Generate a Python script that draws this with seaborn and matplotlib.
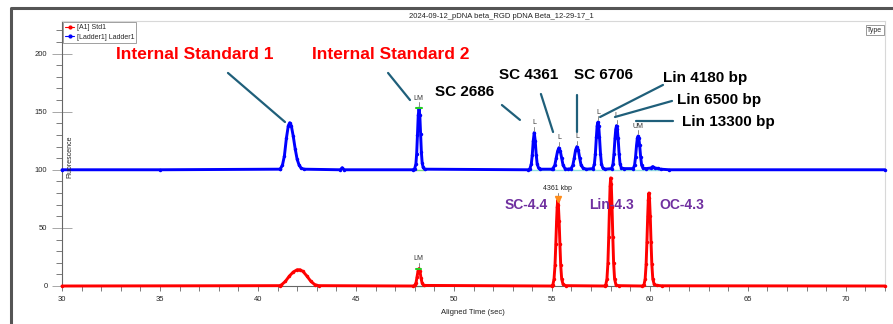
"""
Electropherogram: pDNA beta ladder vs sample, aligned time
"""
import matplotlib
matplotlib.use('Agg')
import matplotlib.pyplot as plt
from matplotlib.lines import Line2D
from matplotlib.ticker import MultipleLocator
import numpy as np
import pandas as pd
import seaborn as sns

# ladder trace (raw fluorescence, shown offset by +100)
ladder_time = [30.0, 35.0, 41.1,
               41.15, 41.25, 41.35, 41.45, 41.55, 41.62, 41.7, 41.8, 41.9, 42.0, 42.1, 42.2, 42.35,
               44.2, 44.3, 44.4, 47.9,
               48.0, 48.06, 48.1, 48.14, 48.18, 48.22, 48.26, 48.3, 48.34, 48.38, 48.43, 48.5,
               53.8, 53.88, 53.95, 54.0, 54.05, 54.1, 54.15, 54.2, 54.25, 54.32, 54.4,
               55.0, 55.05, 55.15, 55.22, 55.29, 55.36, 55.43, 55.5, 55.57, 55.67, 55.8,
               55.98, 56.07, 56.14, 56.21, 56.28, 56.35, 56.42, 56.49, 56.59, 56.75,
               57.1, 57.17, 57.22, 57.27, 57.31, 57.35, 57.39, 57.43, 57.48, 57.53, 57.6, 57.7,
               58.05, 58.12, 58.17, 58.22, 58.26, 58.3, 58.34, 58.38, 58.43, 58.48, 58.55, 58.7,
               59.15, 59.22, 59.27, 59.32, 59.36, 59.4, 59.44, 59.48, 59.53, 59.58, 59.65, 59.8,
               60.05, 60.15, 60.25, 60.4, 60.55, 61.0, 72.0]
ladder_fluor = [0, 0, 0.5,
                1, 4, 12, 27, 38, 40.5, 38, 29, 18, 9, 4, 1.5, 0.5,
                0, 1.8, 0, 0,
                1, 5, 14, 30, 47, 53, 47, 31, 15, 6, 2, 0.5,
                0, 1, 5, 13, 25, 32, 25, 13, 5, 1.5, 0.5,
                0.5, 1, 4, 10, 16, 19, 16, 10, 4, 1, 0.5,
                1, 4, 10, 17, 20, 17, 10, 4, 1.5, 0.5,
                1, 5, 14, 28, 38, 41, 38, 28, 14, 5, 1.5, 0.5,
                1, 5, 14, 27, 35, 38, 35, 27, 14, 5, 1.5, 1,
                1, 4, 11, 21, 27, 29, 27, 21, 11, 4, 1.5, 1,
                1.5, 2.8, 1.5, 1.2, 0.5, 0, 0]

# sample trace [A1] Std1
std_time = [30.0, 41.1,
            41.2, 41.4, 41.6, 41.8, 42.0, 42.15, 42.3, 42.5, 42.7, 42.9, 43.1,
            47.9, 48.0, 48.07, 48.12, 48.17, 48.22, 48.27, 48.32, 48.37, 48.45,
            55.0, 55.05, 55.11, 55.16, 55.2, 55.24, 55.27, 55.3, 55.33, 55.37, 55.41, 55.45, 55.5, 55.57, 55.7,
            57.7, 57.75, 57.81, 57.86, 57.9, 57.94, 57.97, 58.0, 58.03, 58.07, 58.11, 58.15, 58.2, 58.27, 58.4,
            59.6, 59.7, 59.76, 59.81, 59.85, 59.89, 59.92, 59.95, 59.98, 60.02, 60.06, 60.1, 60.15, 60.22, 60.35, 60.6,
            72.0]
std_fluor = [0, 0.3,
             1, 4, 8.5, 12, 14, 14, 12.5, 8.5, 4, 1.2, 0.3,
             0, 0.5, 3, 8, 13, 15, 12.5, 7, 3, 0.5,
             0, 1, 6, 18, 36, 56, 68, 74, 70, 56, 36, 18, 6, 1.5, 0.3,
             0, 1, 6, 20, 42, 68, 86, 93, 88, 68, 42, 20, 6, 1, 0.3,
             0, 1, 6, 19, 38, 60, 74, 80, 76, 60, 38, 19, 6, 1.5, 0.5, 0.2,
             0]

ladder_offset = 100

# ladder peak calls (time, raw height, label)
ladder_peak_time = [48.2, 54.1, 55.36, 56.28, 57.35, 58.3, 59.4]
ladder_peak_height = [53, 32, 19, 20, 41, 38, 29]
ladder_peak_label = ['LM', 'L', 'L', 'L', 'L', 'L', 'UM']

# big callouts: text, text pos, line from, line to, colour
callout_text = ['Internal Standard 1', 'Internal Standard 2', 'SC 2686', 'SC 4361', 'SC 6706',
                'Lin 4180 bp', 'Lin 6500 bp', 'Lin 13300 bp']
callout_xy = [(36.79, 199), (46.79, 199), (50.56, 167), (53.83, 181.6), (57.65, 181.6),
              (60.67, 179), (61.38, 160), (61.64, 141)]
callout_ha = ['center', 'center', 'center', 'center', 'center', 'left', 'left', 'left']
callout_color = ['#ff0000', '#ff0000', 'black', 'black', 'black', 'black', 'black', 'black']
callout_size = [12.5, 12.5, 11, 11, 11, 11, 11, 11]
leader_start = [(38.47, 183.3), (46.64, 183.3), (52.45, 155.7), (54.44, 165.2), (56.28, 164.4),
                (60.67, 173), (61.13, 159.2), (61.18, 142)]
leader_end = [(41.38, 141.1), (47.76, 160), (53.37, 142.9), (55.06, 132.5), (56.28, 132.5),
              (57.46, 145.4), (58.22, 145.4), (59.29, 142)]

sample_text = ['SC-4.4', 'Lin-4.3', 'OC-4.3']
sample_xy = [(53.68, 69.7), (58.02, 69.7), (61.64, 69.7)]

sns.set_theme(style='white')
plt.rcParams['font.family'] = ['Liberation Sans', 'DejaVu Sans']

df = pd.concat([
    pd.DataFrame({'time': std_time, 'fluor': std_fluor, 'trace': '[A1] Std1'}),
    pd.DataFrame({'time': ladder_time, 'fluor': np.array(ladder_fluor) + ladder_offset,
                  'trace': '[Ladder1] Ladder1'}),
])
palette = {'[A1] Std1': '#ff0000', '[Ladder1] Ladder1': '#0000ff'}

fig = plt.figure(figsize=(8.93, 3.24), dpi=100)
ax = fig.add_axes([62 / 893, 1 - 286 / 324, 823 / 893, 265 / 324])

# light baseline segments under called peaks
ax.plot([47.95, 48.5], [ladder_offset, ladder_offset], color='#7fd67f', lw=1, zorder=1)
ax.plot([53.8, 60.5], [ladder_offset, ladder_offset], color='#8fdede', lw=1, zorder=1)
ax.plot([47.95, 48.5], [0.3, 0.3], color='#7fd67f', lw=1, zorder=1, clip_on=False)

sns.lineplot(data=df, x='time', y='fluor', hue='trace', palette=palette, estimator=None,
             sort=False, legend=False, lw=2.1, marker='o', markersize=2.5, markeredgewidth=0,
             ax=ax, zorder=3)
for line in ax.lines:
    line.set_clip_on(False)

ax.set_xlim(30, 72)
ax.set_ylim(0, 228)
ax.set_xlabel('')
ax.set_ylabel('')

# ladder peak labels
for t, h, lab in zip(ladder_peak_time, ladder_peak_height, ladder_peak_label):
    top = h + ladder_offset
    ax.plot([t, t], [top + 1.5, top + 5], color='#888888', lw=0.7, zorder=4)
    ax.text(t, top + 5.5, lab, ha='center', va='bottom', fontsize=5, color='#333333')
# green markers on LM peaks
ax.plot([48.05, 48.35], [153, 153], color='#22cc22', lw=1.5, zorder=5)
ax.plot([48.07, 48.33], [15, 15], color='#22cc22', lw=1.5, zorder=5)
ax.plot([48.2, 48.2], [16, 20], color='#888888', lw=0.7)
ax.text(48.2, 20.5, 'LM', ha='center', va='bottom', fontsize=5, color='#333333')
# sample peak call
ax.plot([55.3], [75], marker='v', color='#ff8c1a', markersize=4, zorder=5)
ax.plot([55.3, 55.3], [76, 80], color='#888888', lw=0.7)
ax.text(55.3, 80.5, '4361 kbp', ha='center', va='bottom', fontsize=5, color='#222222')

# callouts
for txt, xy, ha, c, fs, p0, p1 in zip(callout_text, callout_xy, callout_ha, callout_color,
                                      callout_size, leader_start, leader_end):
    ax.text(xy[0], xy[1], txt, ha=ha, va='center', fontsize=fs, fontweight='bold', color=c,
            zorder=6)
    ax.plot([p0[0], p1[0]], [p0[1], p1[1]], color='#1f5f7a', lw=1.6, zorder=6)
for txt, xy in zip(sample_text, sample_xy):
    ax.text(xy[0], xy[1], txt, ha='center', va='center', fontsize=10, fontweight='bold',
            color='#7030a0', zorder=6)

# axes styling
for side in ['top', 'right']:
    ax.spines[side].set_color('#d8d8d8')
    ax.spines[side].set_linewidth(0.8)
for side in ['left', 'bottom']:
    ax.spines[side].set_color('#666666')
    ax.spines[side].set_linewidth(0.8)
ax.xaxis.set_major_locator(MultipleLocator(5))
ax.xaxis.set_minor_locator(MultipleLocator(1))
ax.yaxis.set_major_locator(MultipleLocator(50))
ax.yaxis.set_minor_locator(MultipleLocator(10))
ax.tick_params(axis='x', which='both', direction='out', length=3.5, width=0.6, color='#666666',
               labelsize=5.5, pad=4, bottom=True)
ax.tick_params(axis='y', which='major', direction='inout', length=15, width=0.6, color='#999999',
               labelsize=5.5, pad=3, left=True)
ax.tick_params(axis='y', which='minor', direction='out', length=4, width=0.6, color='#666666',
               left=True)
ax.set_yticks([0, 50, 100, 150, 200])

leg_handles = [Line2D([0], [0], color='#ff0000', lw=0.8, marker='o', markersize=2),
               Line2D([0], [0], color='#0000ff', lw=0.8, marker='o', markersize=2)]
leg = ax.legend(leg_handles, ['[A1] Std1', '[Ladder1] Ladder1'], loc='upper left', fontsize=5,
                frameon=True, fancybox=False, edgecolor='#888888', handlelength=1.2,
                borderpad=0.3, labelspacing=0.3, borderaxespad=0.2, handletextpad=0.4)
leg.get_frame().set_linewidth(0.7)

ax.text(0.997, 0.965, 'Type', transform=ax.transAxes, ha='right', va='center', fontsize=5,
        bbox=dict(boxstyle='square,pad=0.2', fc='white', ec='#888888', lw=0.6))

fig.text(501 / 893, 1 - 17 / 324, '2024-09-12_pDNA beta_RGD pDNA Beta_12-29-17_1', ha='center',
         va='center', fontsize=5.5, color='#222222')
fig.text(473 / 893, 1 - 313 / 324, 'Aligned Time (sec)', ha='center', va='center', fontsize=5.5,
         color='#222222')
fig.text(70 / 893, 1 - 157 / 324, 'Fluorescence', ha='center', va='center', fontsize=5,
         rotation=90, color='#222222')

# outer window frame
fig.add_artist(Line2D([11 / 893, 11 / 893, 1.0], [0.0, 1 - 8 / 324, 1 - 8 / 324],
                      transform=fig.transFigure, color='#555555', lw=2.2))

fig.savefig('out.png', dpi=100)
